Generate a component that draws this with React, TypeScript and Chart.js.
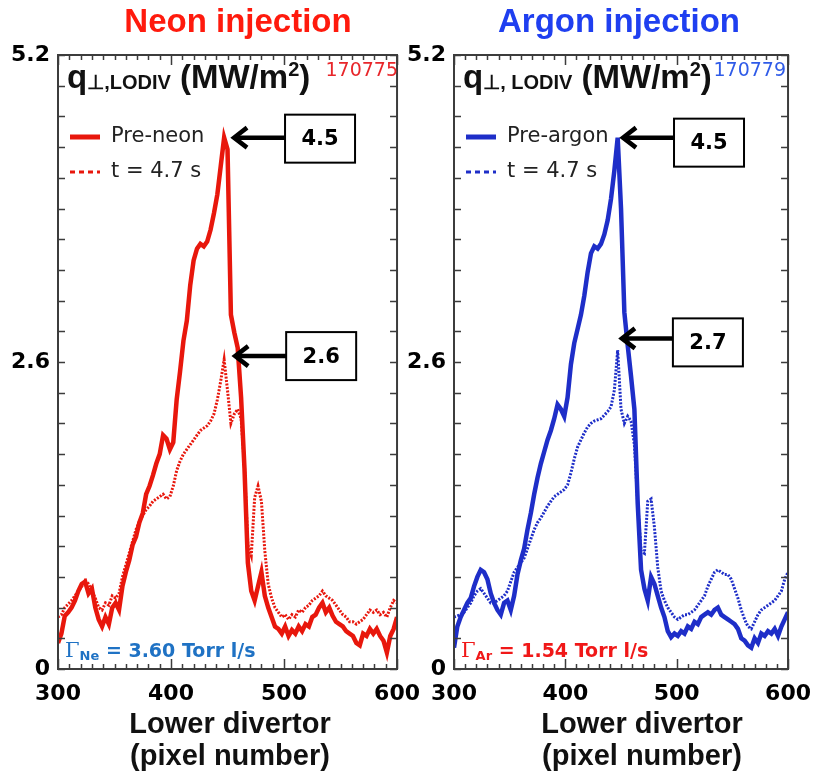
import React, { useEffect, useRef } from 'react';
import { Chart, registerables } from 'chart.js';
Chart.register(...registerables);

// ---- data (pixel number vs q_perp in MW/m^2) ----
const pixels = [
  300, 303, 306, 309, 312, 315, 318, 321, 324, 327, 330, 333, 336, 339, 342, 345, 348, 351, 354, 357,
  360, 363, 366, 369, 372, 375, 378, 381, 384, 387, 390, 393, 396, 399, 402, 405, 408, 411, 414, 417,
  420, 423, 426, 429, 432, 435, 438, 441, 444, 447, 450, 453, 456, 459, 462, 465, 468, 471, 474, 477,
  480, 483, 486, 489, 492, 495, 498, 501, 504, 507, 510, 513, 516, 519, 522, 525, 528, 531, 534, 537,
  540, 543, 546, 549, 552, 555, 558, 561, 564, 567, 570, 573, 576, 579, 582, 585, 588, 591, 594, 597, 600,
];

const neonPre = [
  0.22, 0.30, 0.45, 0.48, 0.52, 0.58, 0.66, 0.72, 0.74, 0.64, 0.68, 0.52, 0.42, 0.36, 0.44, 0.38, 0.52, 0.56, 0.50, 0.70,
  0.82, 0.92, 1.05, 1.12, 1.24, 1.32, 1.48, 1.55, 1.64, 1.74, 1.82, 1.98, 1.95, 1.86, 1.92, 2.28, 2.52, 2.78, 2.95, 3.25,
  3.46, 3.56, 3.60, 3.58, 3.62, 3.72, 3.86, 4.02, 4.26, 4.50, 4.40, 3.00, 2.85, 2.72, 2.30, 1.70, 0.90, 0.66, 0.58, 0.70,
  0.82, 0.62, 0.52, 0.44, 0.36, 0.34, 0.30, 0.36, 0.28, 0.33, 0.30, 0.36, 0.32, 0.38, 0.36, 0.44, 0.46, 0.52, 0.56, 0.48,
  0.52, 0.45, 0.40, 0.38, 0.36, 0.32, 0.30, 0.28, 0.22, 0.20, 0.30, 0.28, 0.34, 0.30, 0.34, 0.28, 0.24, 0.14, 0.28, 0.34, 0.44,
];
const neonT47 = [
  0.44, 0.46, 0.52, 0.55, 0.58, 0.62, 0.66, 0.70, 0.75, 0.72, 0.66, 0.60, 0.52, 0.50, 0.56, 0.54, 0.62, 0.60, 0.64, 0.78,
  0.88, 0.98, 1.08, 1.18, 1.25, 1.30, 1.35, 1.38, 1.42, 1.44, 1.46, 1.48, 1.44, 1.46, 1.55, 1.68, 1.76, 1.82, 1.86, 1.90,
  1.94, 1.98, 2.02, 2.04, 2.06, 2.10, 2.16, 2.28, 2.44, 2.62, 2.36, 2.08, 2.16, 2.20, 2.12, 1.72, 1.05, 0.96, 1.45, 1.55,
  1.42, 1.00, 0.72, 0.60, 0.52, 0.48, 0.44, 0.46, 0.42, 0.46, 0.44, 0.50, 0.48, 0.52, 0.54, 0.58, 0.60, 0.62, 0.66, 0.62,
  0.60, 0.58, 0.54, 0.50, 0.46, 0.44, 0.40, 0.40, 0.38, 0.40, 0.42, 0.46, 0.50, 0.48, 0.50, 0.46, 0.48, 0.44, 0.52, 0.58, 0.56,
];
const argonPre = [
  0.18, 0.36, 0.44, 0.50, 0.56, 0.60, 0.70, 0.78, 0.84, 0.82, 0.76, 0.64, 0.56, 0.50, 0.46, 0.56, 0.58, 0.50, 0.62, 0.80,
  0.92, 1.02, 1.18, 1.32, 1.48, 1.62, 1.74, 1.84, 1.94, 2.02, 2.12, 2.24, 2.20, 2.14, 2.30, 2.58, 2.76, 2.88, 3.00, 3.16,
  3.36, 3.52, 3.58, 3.56, 3.60, 3.68, 3.80, 3.98, 4.22, 4.50, 3.90, 3.02, 2.74, 2.48, 2.20, 1.40, 0.84, 0.68, 0.58, 0.78,
  0.72, 0.62, 0.52, 0.44, 0.32, 0.27, 0.30, 0.28, 0.32, 0.30, 0.36, 0.34, 0.40, 0.38, 0.44, 0.46, 0.48, 0.46, 0.50, 0.52,
  0.46, 0.44, 0.42, 0.40, 0.38, 0.34, 0.26, 0.24, 0.20, 0.18, 0.26, 0.22, 0.30, 0.28, 0.32, 0.30, 0.34, 0.28, 0.36, 0.42, 0.48,
];
const argonT47 = [
  0.44, 0.45, 0.46, 0.48, 0.52, 0.56, 0.62, 0.66, 0.68, 0.64, 0.60, 0.56, 0.56, 0.58, 0.60, 0.62, 0.66, 0.74, 0.82, 0.86,
  0.90, 0.94, 1.02, 1.10, 1.18, 1.24, 1.28, 1.33, 1.38, 1.42, 1.46, 1.48, 1.50, 1.52, 1.56, 1.66, 1.78, 1.88, 1.94, 2.00,
  2.05, 2.08, 2.10, 2.11, 2.12, 2.15, 2.18, 2.22, 2.36, 2.70, 2.20, 2.08, 2.14, 2.10, 1.90, 1.40, 1.00, 0.98, 1.42, 1.44,
  1.20, 0.86, 0.66, 0.58, 0.52, 0.48, 0.44, 0.42, 0.44, 0.46, 0.46, 0.48, 0.50, 0.54, 0.58, 0.62, 0.70, 0.76, 0.82, 0.84,
  0.82, 0.80, 0.80, 0.76, 0.68, 0.60, 0.50, 0.42, 0.36, 0.34, 0.40, 0.46, 0.50, 0.52, 0.54, 0.56, 0.58, 0.62, 0.66, 0.76, 0.82,
];

const xTickValues = [300, 400, 500, 600];
const yTickValues = [0, 2.6, 5.2];

const neonPeaks = [
  { label: '4.5', x: 454, y: 4.5, boxDy: 1 },
  { label: '2.6', x: 455, y: 2.65, boxDy: 0 },
];
const argonPeaks = [
  { label: '4.5', x: 450, y: 4.5, boxDy: 5 },
  { label: '2.7', x: 449, y: 2.8, boxDy: 4 },
];

type Run = { t: string; f: string; dy?: number };

function drawRuns(ctx: CanvasRenderingContext2D, x: number, y: number, runs: Run[], color: string) {
  ctx.fillStyle = color;
  ctx.textAlign = 'left';
  ctx.textBaseline = 'alphabetic';
  let cx = x;
  for (const r of runs) {
    ctx.font = r.f;
    ctx.fillText(r.t, cx, y + (r.dy || 0));
    cx += ctx.measureText(r.t).width;
  }
}

type PanelCfg = {
  left: number;
  width: number;
  padRight: number;
  yAxisWidth: number;
  color: string;
  title: string;
  titleColor: string;
  titleX: number;
  axisTitleX: number;
  shot: string;
  shotColor: string;
  shotDx: number;
  sub: string;
  legend1: string;
  gas: string;
  gasText: string;
  gasColor: string;
  pre: number[];
  t47: number[];
  peaks: { label: string; x: number; y: number; boxDy: number }[];
};

const panels: PanelCfg[] = [
  {
    left: 0, width: 432, padRight: 28, yAxisWidth: 58,
    color: '#e8170c', title: 'Neon injection', titleColor: '#ff1a0d', titleX: 238, axisTitleX: 230,
    shot: '170775', shotColor: '#e8262a', shotDx: 1, sub: '\u22a5,LODIV', legend1: 'Pre-neon',
    gas: 'Ne', gasText: ' = 3.60 Torr l/s', gasColor: '#1f72c4',
    pre: neonPre, t47: neonT47, peaks: neonPeaks,
  },
  {
    left: 400, width: 423, padRight: 20, yAxisWidth: 54,
    color: '#1e2ec8', title: 'Argon injection', titleColor: '#1f3ff0', titleX: 219, axisTitleX: 242,
    shot: '170779', shotColor: '#2f5be8', shotDx: -2, sub: '\u22a5, LODIV', legend1: 'Pre-argon',
    gas: 'Ar', gasText: ' = 1.54 Torr l/s', gasColor: '#f01818',
    pre: argonPre, t47: argonT47, peaks: argonPeaks,
  },
];

function makeDecor(p: PanelCfg) {
  return {
    id: 'decor',
    afterDatasetsDraw(chart: any) {
      const { ctx, chartArea: a, scales } = chart;
      const xs = scales.x;
      const ys = scales.y;
      ctx.save();
      // frame
      ctx.strokeStyle = '#3c3c3c';
      ctx.lineWidth = 2;
      ctx.strokeRect(a.left, a.top, a.right - a.left, a.bottom - a.top);
      // inward ticks
      ctx.lineWidth = 1.5;
      ctx.beginPath();
      for (let v = 300; v <= 600; v += 10) {
        const px = Math.round(xs.getPixelForValue(v)) + 0.5;
        const len = v % 100 === 0 ? 10 : 5;
        ctx.moveTo(px, a.bottom); ctx.lineTo(px, a.bottom - len);
        ctx.moveTo(px, a.top); ctx.lineTo(px, a.top + len);
      }
      for (let k = 0; k <= 20; k++) {
        const py = Math.round(ys.getPixelForValue(k * 0.26)) + 0.5;
        const len = 7;
        ctx.moveTo(a.left, py); ctx.lineTo(a.left + len, py);
        ctx.moveTo(a.right, py); ctx.lineTo(a.right - len, py);
      }
      ctx.stroke();

      // header q_perp
      drawRuns(ctx, a.left + 9, a.top + 33, [
        { t: 'q', f: 'bold 33px "Liberation Sans"' },
        { t: p.sub, f: 'bold 20px "Liberation Sans"', dy: 1 },
        { t: ' (MW/m', f: 'bold 33px "Liberation Sans"' },
        { t: '2', f: 'bold 20px "Liberation Sans"', dy: -12 },
        { t: ')', f: 'bold 33px "Liberation Sans"' },
      ], '#111');
      // shot number
      ctx.font = '19px "DejaVu Sans"';
      ctx.fillStyle = p.shotColor;
      ctx.textAlign = 'right';
      ctx.textBaseline = 'alphabetic';
      ctx.fillText(p.shot, a.right + p.shotDx, a.top + 21);

      // legend
      const lx = a.left + 12;
      ctx.strokeStyle = p.color;
      ctx.lineWidth = 5;
      ctx.beginPath(); ctx.moveTo(lx, a.top + 82); ctx.lineTo(lx + 30, a.top + 82); ctx.stroke();
      ctx.lineWidth = 3;
      ctx.setLineDash([5, 4]);
      ctx.beginPath(); ctx.moveTo(lx, a.top + 117); ctx.lineTo(lx + 30, a.top + 117); ctx.stroke();
      ctx.setLineDash([]);
      ctx.fillStyle = '#222';
      ctx.font = '21px "DejaVu Sans"';
      ctx.textAlign = 'left';
      ctx.textBaseline = 'middle';
      ctx.fillText(p.legend1, lx + 41, a.top + 82);
      ctx.fillText('t = 4.7 s', lx + 41, a.top + 117);

      // peak annotations
      for (const pk of p.peaks) {
        const tx = xs.getPixelForValue(pk.x);
        const ty = ys.getPixelForValue(pk.y);
        const bx = tx + 53;
        const bw = 70;
        const bh = 48;
        const by = ty + pk.boxDy - bh / 2;
        ctx.strokeStyle = '#000';
        ctx.lineWidth = 4.5;
        ctx.lineCap = 'butt';
        ctx.beginPath(); ctx.moveTo(tx + 4, ty); ctx.lineTo(bx, ty); ctx.stroke();
        ctx.lineWidth = 4.5;
        ctx.lineJoin = 'miter';
        ctx.beginPath();
        ctx.moveTo(tx + 15, ty - 10); ctx.lineTo(tx + 2, ty); ctx.lineTo(tx + 15, ty + 10);
        ctx.stroke();
        ctx.fillStyle = '#fff';
        ctx.fillRect(bx, by, bw, bh);
        ctx.lineWidth = 2;
        ctx.strokeRect(bx, by, bw, bh);
        ctx.fillStyle = '#000';
        ctx.font = 'bold 21px "DejaVu Sans"';
        ctx.textAlign = 'center';
        ctx.textBaseline = 'middle';
        ctx.fillText(pk.label, bx + bw / 2, by + bh / 2 + 1);
      }

      // gas puff rate
      drawRuns(ctx, a.left + 7, a.bottom - 12, [
        { t: '\u0393', f: '21px "DejaVu Serif"' },
        { t: p.gas, f: 'bold 13px "DejaVu Sans"', dy: 3 },
        { t: p.gasText, f: 'bold 19px "DejaVu Sans"' },
      ], p.gasColor);
      ctx.restore();
    },
    afterDraw(chart: any) {
      const { ctx, chartArea: a } = chart;
      ctx.save();
      ctx.fillStyle = p.titleColor;
      ctx.font = 'bold 33px "Liberation Sans"';
      ctx.textAlign = 'center';
      ctx.textBaseline = 'alphabetic';
      ctx.fillText(p.title, p.titleX, 32);
      ctx.fillStyle = '#111';
      ctx.font = 'bold 29px "Liberation Sans"';
      ctx.fillText('Lower divertor', p.axisTitleX, a.bottom + 64);
      ctx.fillText('(pixel number)', p.axisTitleX, a.bottom + 96);
      ctx.restore();
    },
  };
}

function Panel({ p }: { p: PanelCfg }) {
  const ref = useRef<HTMLCanvasElement | null>(null);
  useEffect(() => {
    if (!ref.current) return;
    const chart = new Chart(ref.current, {
      type: 'line',
      data: {
        datasets: [
          {
            label: p.legend1,
            data: pixels.map((x, i) => ({ x, y: p.pre[i] })),
            borderColor: p.color,
            borderWidth: 4.5,
            pointRadius: 0,
            tension: 0,
          },
          {
            label: 't = 4.7 s',
            data: pixels.map((x, i) => ({ x, y: p.t47[i] })),
            borderColor: p.color,
            borderWidth: 3,
            borderDash: [2, 1.5],
            pointRadius: 0,
            tension: 0,
          },
        ],
      },
      options: {
        animation: false,
        responsive: false,
        devicePixelRatio: 1,
        layout: { padding: { top: 55, right: p.padRight, left: 0, bottom: 0 } },
        plugins: { legend: { display: false }, tooltip: { enabled: false }, title: { display: false } },
        scales: {
          x: {
            type: 'linear',
            min: 300,
            max: 600,
            grid: { display: false, drawTicks: false },
            border: { display: false },
            afterBuildTicks: (s: any) => { s.ticks = xTickValues.map((v) => ({ value: v })); },
            afterFit: (s: any) => { s.height = 109; },
            ticks: {
              padding: 12,
              color: '#000',
              maxRotation: 0,
              font: { family: 'DejaVu Sans', size: 22, weight: 'bold' },
              callback: (v: any) => String(v),
            },
          },
          y: {
            type: 'linear',
            min: 0,
            max: 5.2,
            grid: { display: false, drawTicks: false },
            border: { display: false },
            afterBuildTicks: (s: any) => { s.ticks = yTickValues.map((v) => ({ value: v })); },
            afterFit: (s: any) => { s.width = p.yAxisWidth; },
            ticks: {
              padding: 8,
              color: '#000',
              font: { family: 'DejaVu Sans', size: 22, weight: 'bold' },
              callback: (v: any) => (v === 0 ? '0' : Number(v).toFixed(1)),
            },
          },
        },
      } as any,
      plugins: [makeDecor(p)],
    });
    return () => chart.destroy();
  }, [p]);
  return (
    <canvas
      ref={ref}
      width={p.width}
      height={778}
      style={{ position: 'absolute', left: p.left, top: 0, width: p.width, height: 778 }}
    />
  );
}

export default function App() {
  return (
    <div style={{ position: 'absolute', left: 0, top: 0, width: 823, height: 778, background: '#fff' }}>
      {panels.map((p) => (
        <Panel key={p.title} p={p} />
      ))}
    </div>
  );
}
